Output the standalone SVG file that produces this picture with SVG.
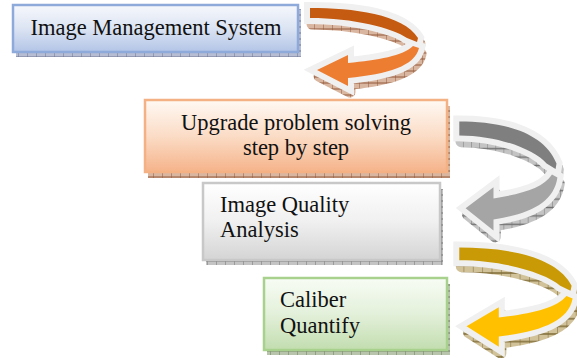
<svg xmlns="http://www.w3.org/2000/svg" xmlns:xlink="http://www.w3.org/1999/xlink" width="577" height="358" viewBox="0 0 577 358">
<style>
  text { font-family: "Liberation Serif", "Times New Roman", serif; font-size: 22.5px; fill: #111; }
  .mid { text-anchor: middle; }
  .outline { fill: #f0f0f0; stroke: #f0f0f0; stroke-width: 12; stroke-linejoin: miter; stroke-miterlimit: 2.5; }
  .shadow { stroke-width: 11; stroke-linejoin: round; }
  .box { stroke-width: 2.5; }
</style>
<defs>
  <linearGradient id="gBlue" x1="0" y1="0" x2="0" y2="1">
    <stop offset="0" stop-color="#f6f8fc"/><stop offset="0.5" stop-color="#dce4f3"/><stop offset="1" stop-color="#b2c4e6"/>
  </linearGradient>
  <linearGradient id="gOrange" x1="0" y1="0" x2="0" y2="1">
    <stop offset="0" stop-color="#fff9f4"/><stop offset="0.5" stop-color="#fbdcc6"/><stop offset="1" stop-color="#f5b38a"/>
  </linearGradient>
  <linearGradient id="gGray" x1="0" y1="0" x2="0" y2="1">
    <stop offset="0" stop-color="#ffffff"/><stop offset="0.5" stop-color="#f0f0f0"/><stop offset="1" stop-color="#d4d4d4"/>
  </linearGradient>
  <linearGradient id="gGreen" x1="0" y1="0" x2="0" y2="1">
    <stop offset="0" stop-color="#f8fcf5"/><stop offset="0.5" stop-color="#e3f0da"/><stop offset="1" stop-color="#c2ddaf"/>
  </linearGradient>
  <pattern id="hBlue" patternUnits="userSpaceOnUse" width="9" height="6">
    <rect width="9" height="6" fill="#b7bdd2"/><path d="M0,0V6M0,3H9" stroke="#6e7592" stroke-width="1"/>
  </pattern>
  <pattern id="hOrange" patternUnits="userSpaceOnUse" width="9" height="6">
    <rect width="9" height="6" fill="#d9b6a0"/><path d="M0,0V6M0,3H9" stroke="#93593a" stroke-width="1"/>
  </pattern>
  <pattern id="hGray" patternUnits="userSpaceOnUse" width="9" height="6">
    <rect width="9" height="6" fill="#c4c4c4"/><path d="M0,0V6M0,3H9" stroke="#707070" stroke-width="1"/>
  </pattern>
  <pattern id="hGreen" patternUnits="userSpaceOnUse" width="9" height="6">
    <rect width="9" height="6" fill="#b9c4ad"/><path d="M0,0V6M0,3H9" stroke="#6c7a5c" stroke-width="1"/>
  </pattern>
  <pattern id="hGold" patternUnits="userSpaceOnUse" width="9" height="6">
    <rect width="9" height="6" fill="#d1c29a"/><path d="M0,0V6M0,3H9" stroke="#7f6a36" stroke-width="1"/>
  </pattern>
  <path id="bandTop" vector-effect="non-scaling-stroke" d="M7,6 C50,6 100,12 115,36 L114,40 L104,36 C90,26 50,16 7,16 Z"/>
  <path id="bandBot" vector-effect="non-scaling-stroke" d="M110,44 C100,54 75,58 45,61 L45,53 L14,68 L45,84 L45,76 C85,72 112,64 116,46 Z"/>
</defs>

<!-- Nodes -->
<g id="node-image-management">
  <rect x="16" y="9" width="285" height="48" fill="url(#hBlue)"/>
  <rect class="box" x="13" y="5" width="285" height="47" fill="url(#gBlue)" stroke="#8eaadb"/>
  <text class="mid" x="156" y="35">Image Management System</text>
</g>
<g id="node-upgrade">
  <rect x="148" y="106" width="302" height="72" fill="url(#hOrange)"/>
  <rect class="box" x="145" y="100" width="302" height="72" fill="url(#gOrange)" stroke="#f4b183"/>
  <text class="mid" x="296" y="130">Upgrade problem solving</text>
  <text class="mid" x="296" y="155">step by step</text>
</g>
<g id="node-quality">
  <rect x="206" y="189" width="237" height="76" fill="url(#hGray)"/>
  <rect class="box" x="203" y="183" width="237" height="77" fill="url(#gGray)" stroke="#c8c8c8"/>
  <text x="220" y="212">Image Quality</text>
  <text x="220" y="237">Analysis</text>
</g>
<g id="node-caliber">
  <rect x="267" y="284" width="183" height="71" fill="url(#hGreen)"/>
  <rect class="box" x="264" y="278" width="183" height="72" fill="url(#gGreen)" stroke="#a9d18e"/>
  <text x="280" y="307">Caliber</text>
  <text x="280" y="333">Quantify</text>
</g>

<!-- Connectors (curved arrows) -->
<g id="connectors">
  <g id="arrow-1" transform="translate(303,2)">
    <g class="shadow" transform="translate(2,6)" fill="url(#hOrange)" stroke="url(#hOrange)">
      <use href="#bandTop"/><use href="#bandBot"/>
    </g>
    <g class="outline"><use href="#bandTop"/><use href="#bandBot"/></g>
    <use href="#bandTop" fill="#c55a11"/>
    <use href="#bandBot" fill="#ed7d31"/>
  </g>
  <g id="arrow-2" transform="translate(453,113) scale(0.9,1.4)">
    <g class="shadow" transform="translate(2,4.5)" fill="url(#hGray)" stroke="url(#hGray)">
      <use href="#bandTop"/><use href="#bandBot"/>
    </g>
    <g class="outline"><use href="#bandTop"/><use href="#bandBot"/></g>
    <use href="#bandTop" fill="#7f7f7f"/>
    <use href="#bandBot" fill="#a5a5a5"/>
  </g>
  <g id="arrow-3" transform="translate(452,240) scale(1.04,1.27)">
    <g class="shadow" transform="translate(2,5)" fill="url(#hGold)" stroke="url(#hGold)">
      <use href="#bandTop"/><use href="#bandBot"/>
    </g>
    <g class="outline"><use href="#bandTop"/><use href="#bandBot"/></g>
    <use href="#bandTop" fill="#c99a06"/>
    <use href="#bandBot" fill="#ffc000"/>
  </g>
</g>
</svg>
